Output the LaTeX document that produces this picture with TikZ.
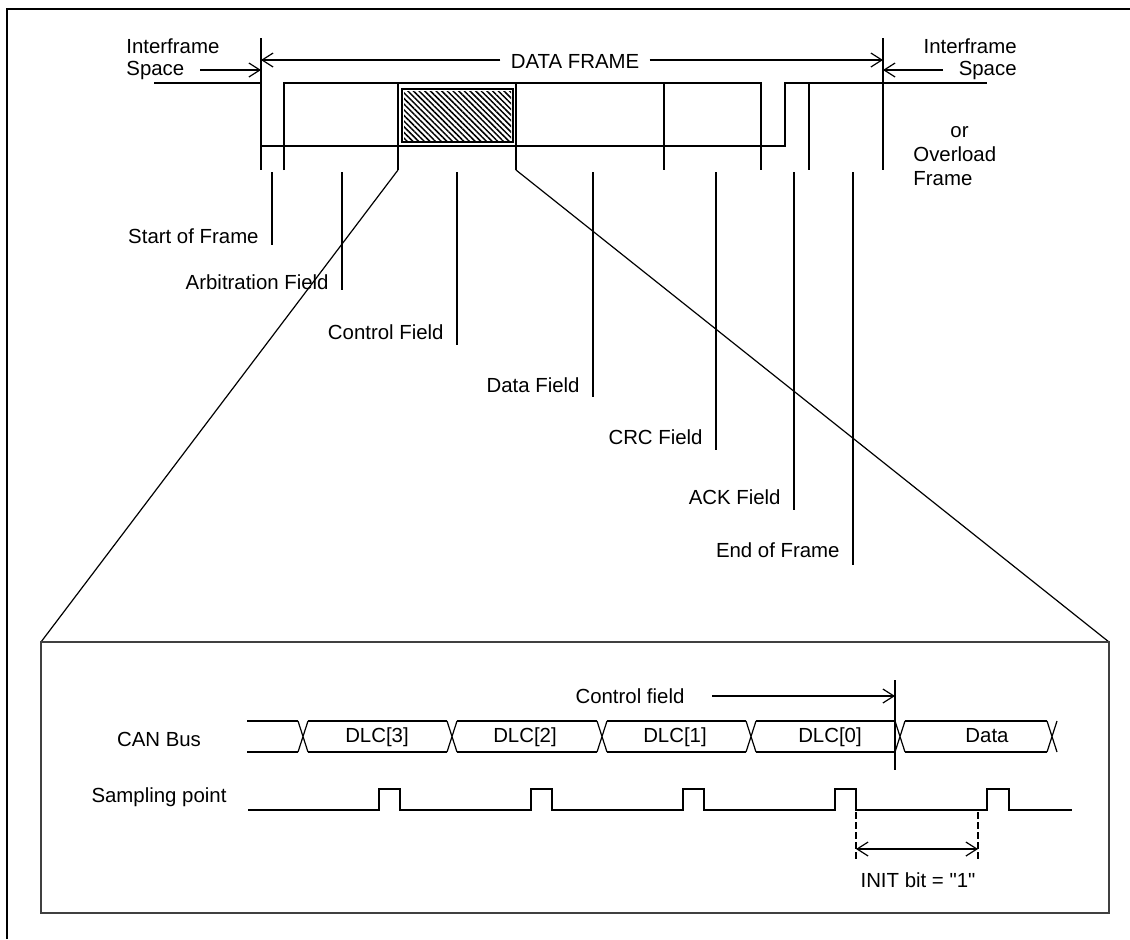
\documentclass[tikz,border=0pt]{standalone}
\usepackage{fontspec}
\setmainfont{Liberation Sans}[Ligatures=TeXOff]
\usetikzlibrary{arrows.meta,patterns.meta}
\begin{document}
\begin{tikzpicture}[x=0.5pt,y=-0.5pt,
  ln/.style={line width=0.6pt,draw=black},
  arr/.style={ln,-{Straight Barb[length=5.5pt,width=7pt]}},
  dblarr/.style={ln,{Straight Barb[length=5.5pt,width=7pt]}-{Straight Barb[length=5.5pt,width=7pt]}},
  boxln/.style={line width=0.9pt,draw=black!75},
  lbl/.style={inner sep=0pt,font=\fontsize{10.2}{11}\selectfont},
  fieldlbl/.style={lbl,anchor=base east},
  buslbl/.style={lbl,anchor=base},
]
\useasboundingbox (0,0) rectangle (1130,939);
% outer frame
\draw[line width=0.8pt] (7,939) -- (7,9) -- (1130,9);

% ---------------- frame overview ----------------
\coordinate (dfL) at (261,60);
\coordinate (dfR) at (883,60);
\draw[ln] (261,38) -- (261,170);
\draw[ln] (883,38) -- (883,170);
\node[lbl,anchor=base,inner xsep=5pt] (df) at (575,68) {DATA FRAME};
\draw[arr] (df.west |- dfL) -- (dfL);
\draw[arr] (df.east |- dfR) -- (dfR);

\node[lbl,anchor=north west,align=left] (ifsL) at (126,38) {Interframe\\Space};
\coordinate (ifsLa) at (200,70);
\coordinate (ifsLb) at (261,70);
\draw[arr] (ifsLa) -- (ifsLb);
\node[lbl,anchor=north east,align=right] (ifsR) at (1017,38) {Interframe\\Space};
\coordinate (ifsRa) at (943,70);
\coordinate (ifsRb) at (883,70);
\draw[arr] (ifsRa) -- (ifsRb);
\node[lbl,anchor=north west,align=left,font=\fontsize{10.2}{12}\selectfont] (ovl) at (913,126) {\hspace*{18.5pt}or\\Overload\\Frame};

% signal
\draw[ln] (154,83) -- (261,83);
\draw[ln] (261,146) -- (785,146) -- (785,83) -- (987,83);
\draw[ln] (284,170) -- (284,83) -- (761,83) -- (761,170);
\coordinate (ctlL) at (398,170);
\coordinate (ctlR) at (516,170);
\draw[ln] (398,83) -- (ctlL);
\draw[ln] (516,83) -- (ctlR);
\draw[ln] (664,83) -- (664,170);
\draw[ln] (809,83) -- (809,170);
\fill[pattern={Lines[angle=-45,distance=2pt,line width=0.75pt]}] (404,91) rectangle (511,140);
\draw[ln] (402,89) rectangle (513,142);

% field labels
\foreach \nm/\x/\yb/\yt/\txt in {sof/272/245/243/Start of Frame,
                                 arb/342/290/289/Arbitration Field,
                                 ctl/457/345/339/Control Field,
                                 dat/593/397/392/Data Field,
                                 crc/716/450/444/CRC Field,
                                 ack/794/510/504/ACK Field,
                                 eof/853/565/557/End of Frame}{
  \coordinate (\nm T) at (\x,172);
  \coordinate (\nm B) at (\x,\yb);
  \draw[ln] (\nm T) -- (\nm B);
  \node[fieldlbl] (\nm) at (\x-13,\yt) {\txt};
}

% zoom box
\coordinate (boxTL) at (41,642);
\coordinate (boxTR) at (1109,642);
\coordinate (boxBR) at (1109,913);
\coordinate (boxBL) at (41,913);
\draw[ln] (ctlL) -- (boxTL);
\draw[ln] (ctlR) -- (boxTR);
\draw[boxln] (boxTL) -- (boxTR) -- (boxBR) -- (boxBL) -- cycle;

% ---------------- CAN bus ----------------
\node[buslbl] (canlbl) at (159,746) {CAN Bus};
\node[buslbl] (smplbl) at (159,802) {Sampling point};

\draw[ln] (247,721) -- (298,721) (247,752) -- (298,752);
\foreach \a/\b in {303/452,452/602,602/751,751/900,900/1052}{
  \draw[ln] (\a+5,721) -- (\b-5,721) (\a+5,752) -- (\b-5,752);
}
\foreach \c in {303,452,602,751,900,1052}{
  \draw[ln] (\c-5,721) -- (\c+5,752) (\c-5,752) -- (\c+5,721);
}
\node[buslbl] (d3) at (377,742) {DLC[3]};
\node[buslbl] (d2) at (525,742) {DLC[2]};
\node[buslbl] (d1) at (675,742) {DLC[1]};
\node[buslbl] (d0) at (830,742) {DLC[0]};
\node[buslbl] (dd) at (987,742) {Data};

\coordinate (cfT) at (895,680);
\coordinate (cfB) at (895,770);
\draw[ln] (cfT) -- (cfB);
\node[buslbl] (cflbl) at (630,703) {Control field};
\coordinate (cfA) at (712,696);
\draw[arr] (cfA) -- (cfA -| cfT);

% sampling
\draw[ln] (248,810) -- (379,810) -- (379,789) -- (400,789) -- (400,810)
  -- (531,810) -- (531,789) -- (552,789) -- (552,810)
  -- (683,810) -- (683,789) -- (704,789) -- (704,810)
  -- (835,810) -- (835,789) -- (856,789) -- (856,810)
  -- (987,810) -- (987,789) -- (1009,789) -- (1009,810) -- (1072,810);
\coordinate (i1T) at (856,812);
\coordinate (i1B) at (856,862);
\coordinate (i2T) at (978,812);
\coordinate (i2B) at (978,862);
\draw[ln,dash pattern=on 3.5pt off 1.5pt] (i1T) -- (i1B) (i2T) -- (i2B);
\draw[dblarr] (i1T |- 0,849) -- (i2T |- 0,849);
\node[buslbl] (initlbl) at (918,887) {INIT bit = "1"};
\end{tikzpicture}
\end{document}
